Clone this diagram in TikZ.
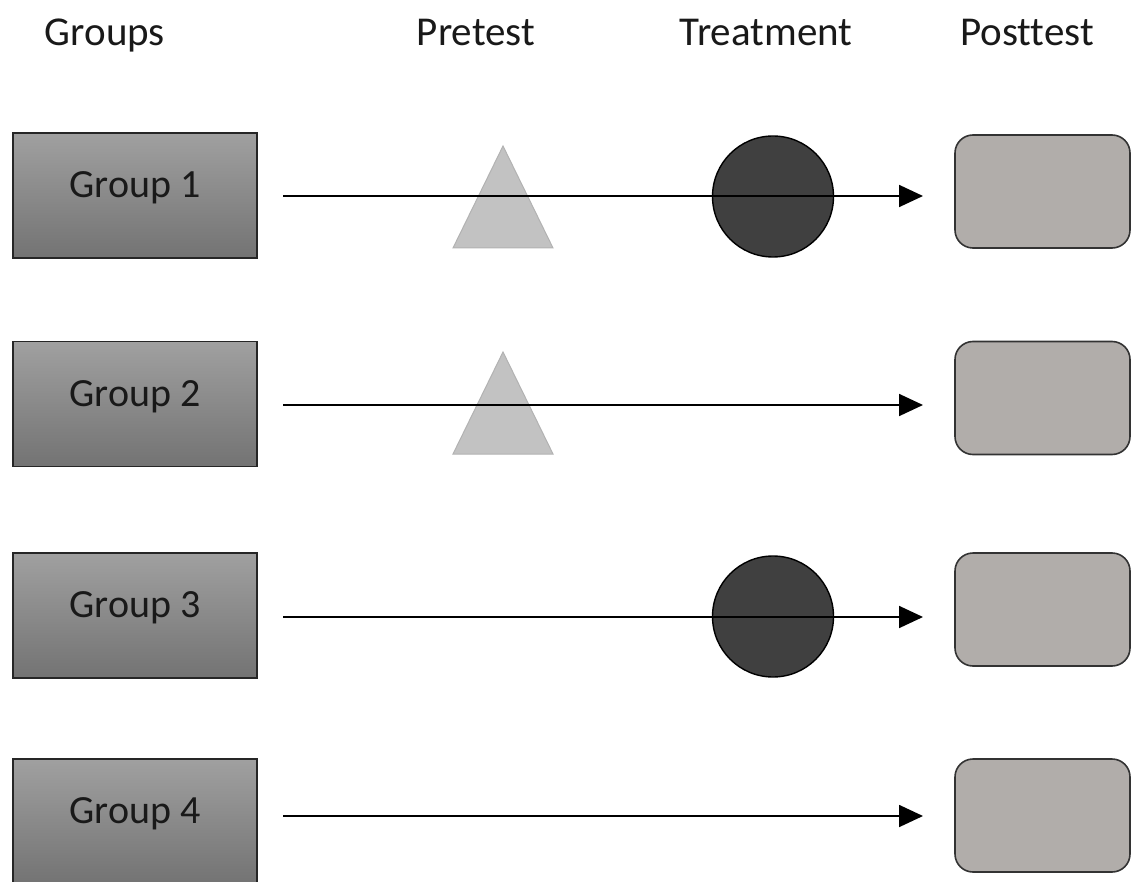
\documentclass[tikz,border=0pt]{standalone}
\usepackage{fontspec}
\setmainfont{Carlito}[Ligatures={NoCommon}]
\usetikzlibrary{shapes.geometric,arrows.meta}
\definecolor{grptop}{HTML}{A0A0A0}
\definecolor{grpbot}{HTML}{737373}
\definecolor{postfill}{HTML}{B1ADAA}
\definecolor{trifill}{HTML}{C2C2C2}
\definecolor{triedge}{HTML}{B2B2B2}
\definecolor{circfill}{HTML}{404040}
\tikzset{
  grpbox/.style={draw=black!85, line width=1.6pt, top color=grptop, bottom color=grpbot,
    minimum width=244pt, minimum height=125pt, inner sep=0pt, outer sep=0pt,
    font=\fontsize{40}{48}\selectfont, text=black!90},
  postbox/.style={draw=black!80, line width=1.6pt, fill=postfill, rounded corners=18pt,
    minimum width=175pt, minimum height=113pt, inner sep=0pt, outer sep=0pt},
  pretri/.style={isosceles triangle, isosceles triangle stretches, shape border rotate=90,
    minimum width=100pt, minimum height=102pt, fill=trifill, draw=triedge, line width=1pt,
    inner sep=0pt, outer sep=0pt, anchor=apex},
  treat/.style={circle, fill=circfill, draw=black, line width=1.4pt, minimum size=121pt,
    inner sep=0pt, outer sep=0pt},
  head/.style={font=\fontsize{41}{49}\selectfont, text=black!90, anchor=base, inner sep=0pt},
  flow/.style={line width=1.8pt, -{Triangle[length=24pt,width=22pt]}}
}
\begin{document}
\begin{tikzpicture}[x=1pt,y=-1pt]
\useasboundingbox (0,0) rectangle (1131,882);
\clip (0,0) rectangle (1131,882);
% headers
\node[head] (hg) at (105,46) {Groups};
\node[head] (hp) at (476,46) {Pretest};
\node[head] (ht) at (766,46) {Treatment};
\node[head] (hq) at (1027,46) {Posttest};
% group boxes
\node[grpbox] (g1) at (135,195.5) {\raisebox{21pt}{Group 1}};
\node[grpbox] (g2) at (135,404) {\raisebox{21pt}{Group 2}};
\node[grpbox] (g3) at (135,615.5) {\raisebox{21pt}{Group 3}};
\node[grpbox] (g4) at (135,821.5) {\raisebox{21pt}{Group 4}};
% posttest boxes
\node[postbox] (p1) at (1042.5,191.5) {};
\node[postbox] (p2) at (1042.5,398) {};
\node[postbox] (p3) at (1042.5,609.5) {};
\node[postbox] (p4) at (1042.5,815.5) {};
% pretest triangles
\node[pretri] (t1) at (503,146) {};
\node[pretri] (t2) at (503,352) {};
% treatment circles
\node[treat] (c1) at (773,196.5) {};
\node[treat] (c3) at (773,616.5) {};
% connectors
\draw[flow] ([xshift=26pt]g1.east |- 0,196) -- ([xshift=-32pt]p1.west |- 0,196);
\draw[flow] ([xshift=26pt]g2.east |- 0,405) -- ([xshift=-32pt]p2.west |- 0,405);
\draw[flow] ([xshift=26pt]g3.east |- 0,617) -- ([xshift=-32pt]p3.west |- 0,617);
\draw[flow] ([xshift=26pt]g4.east |- 0,816) -- ([xshift=-32pt]p4.west |- 0,816);
\end{tikzpicture}
\end{document}
